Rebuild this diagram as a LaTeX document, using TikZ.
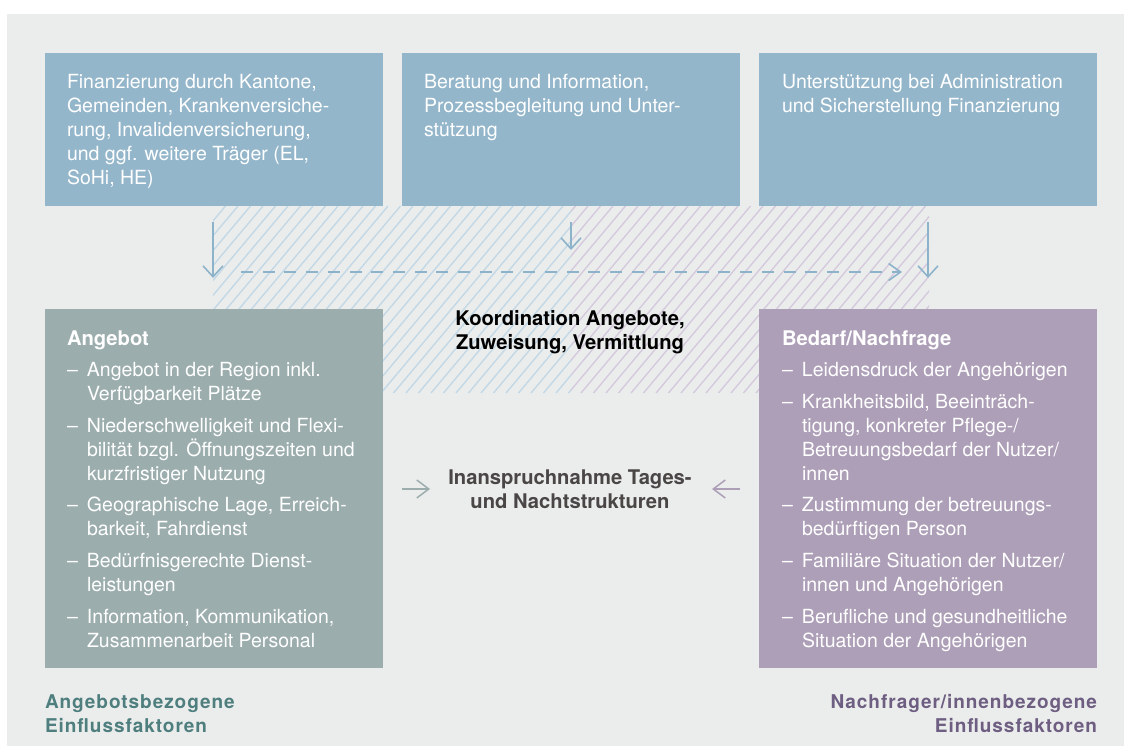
\documentclass[tikz,border=0pt]{standalone}
\usepackage{fontspec}
\setmainfont{TeX Gyre Heros}
\newfontfamily\trackfont{TeX Gyre Heros}[LetterSpace=5]
\usetikzlibrary{arrows.meta}

\definecolor{bg}{HTML}{EBEDEC}
\definecolor{topbox}{HTML}{94B6CB}
\definecolor{angbox}{HTML}{9CADAD}
\definecolor{bedbox}{HTML}{AD9FB7}
\definecolor{hblue}{HTML}{C3D8E7}
\definecolor{hpurp}{HTML}{D5CADD}
\definecolor{arrblue}{HTML}{8DB3CB}
\definecolor{tealtxt}{HTML}{4E7E7E}
\definecolor{purptxt}{HTML}{6E5E82}
\definecolor{darktxt}{HTML}{4A4645}

\newcommand\myitem{\makebox[20pt][l]{–}}
\newcommand\myindent{\hspace*{20pt}}
\newcommand\lightsize{\fontsize{19.5}{24}\selectfont}
\newcommand\boldsize{\fontsize{20.2}{24}\selectfont\bfseries}

\begin{document}
\begin{tikzpicture}[x=1pt,y=-1pt,
  box/.style={draw=none, inner sep=0, minimum width=338pt, anchor=north west},
  txt/.style={inner sep=0, outer sep=0},
  vbarb/.style={-{Straight Barb[length=11pt,width=20pt,line width=1.6pt]}, line width=1.6pt, draw=arrblue},
  dbarb/.style={-{Straight Barb[length=12pt,width=17pt,line width=1.6pt]}, line width=2.8pt, dash pattern=on 12pt off 9.7pt, draw=arrblue},
  mbarb/.style={-{Straight Barb[length=12pt,width=18pt,line width=1.5pt]}, line width=1.5pt},
  hatch/.style={line width=1.4pt}
]
\useasboundingbox (0,0) rectangle (1124,746);
\fill[bg] (7,14) rectangle (1124,746);

% hatched coordination band
\begin{scope}
  \clip (213,206) rectangle (571,393);
  \foreach \i in {0,...,72} {
    \draw[hatch, hblue] ({56+\i*12.5},393) -- ++(157,-187);
  }
\end{scope}
\begin{scope}
  \clip (571,206) rectangle (929,393);
  \foreach \i in {0,...,72} {
    \draw[hatch, hpurp] ({56+\i*12.5},393) -- ++(157,-187);
  }
\end{scope}

% top boxes
\node[box, fill=topbox, minimum height=153pt] (b1) at (45,53) {};
\node[box, fill=topbox, minimum height=153pt] (b2) at (402,53) {};
\node[box, fill=topbox, minimum height=153pt] (b3) at (759,53) {};

% bottom boxes
\node[box, fill=angbox, minimum height=359pt] (ang) at (45,309) {};
\node[box, fill=bedbox, minimum height=359pt] (bed) at (759,309) {};

% top texts
\node[txt, anchor=base west, text=white] (t1) at (67,89) {\parbox[t]{320pt}{\raggedright\lightsize
Finanzierung durch Kantone,\\
Gemeinden, Krankenversiche-\\
rung, Invalidenversicherung,\\
und ggf. weitere Träger (EL,\\
SoHi, HE)}};
\node[txt, anchor=base west, text=white] (t2) at (424,89) {\parbox[t]{320pt}{\raggedright\lightsize
Beratung und Information,\\
Prozessbegleitung und Unter-\\
stützung}};
\node[txt, anchor=base west, text=white] (t3) at (782,89) {\parbox[t]{320pt}{\raggedright\lightsize
Unterstützung bei Administration\\
und Sicherstellung Finanzierung}};

% Angebot text
\node[txt, anchor=base west, text=white] (tang) at (67,345) {\parbox[t]{320pt}{\raggedright\lightsize
{\boldsize Angebot}\\[7.6pt]
\myitem Angebot in der Region inkl.\\
\myindent Verfügbarkeit Plätze\\[7.6pt]
\myitem Niederschwelligkeit und Flexi-\\
\myindent bilität bzgl. Öffnungszeiten und\\
\myindent kurzfristiger Nutzung\\[7.6pt]
\myitem Geographische Lage, Erreich-\\
\myindent barkeit, Fahrdienst\\[7.6pt]
\myitem Bedürfnisgerechte Dienst-\\
\myindent leistungen\\[7.6pt]
\myitem Information, Kommunikation,\\
\myindent Zusammenarbeit Personal}};

% Bedarf text
\node[txt, anchor=base west, text=white] (tbed) at (782,345) {\parbox[t]{320pt}{\raggedright\lightsize
{\boldsize Bedarf/Nachfrage}\\[7.6pt]
\myitem Leidensdruck der Angehörigen\\[7.6pt]
\myitem Krankheitsbild, Beeinträch-\\
\myindent tigung, konkreter Pflege-/\\
\myindent Betreuungsbedarf der Nutzer/\\
\myindent innen\\[7.6pt]
\myitem Zustimmung der betreuungs-\\
\myindent bedürftigen Person\\[7.6pt]
\myitem Familiäre Situation der Nutzer/\\
\myindent innen und Angehörigen\\[7.6pt]
\myitem Berufliche und gesundheitliche\\
\myindent Situation der Angehörigen}};

% centre texts
\node[txt, anchor=base] (koord) at (570,325) {\parbox[t]{320pt}{\centering\boldsize
Koordination Angebote,\\
Zuweisung, Vermittlung}};
\node[txt, anchor=base, text=darktxt] (inan) at (570,484) {\parbox[t]{320pt}{\centering\boldsize
Inanspruchnahme Tages-\\
und Nachtstrukturen}};

% bottom labels
\node[txt, anchor=base west, text=tealtxt] (lab1) at (45,708) {\parbox[t]{320pt}{\raggedright\fontsize{19}{24.5}\selectfont\trackfont\bfseries
Angebotsbezogene\\
Einflussfaktoren}};
\node[txt, anchor=base east, text=purptxt] (lab2) at (1097,708) {\parbox[t]{340pt}{\raggedleft\fontsize{19}{24.5}\selectfont\trackfont\bfseries
Nachfrager/innenbezogene\\
Einflussfaktoren}};

% arrows from top boxes
\coordinate (a1s) at (213,222); \coordinate (a1e) at (213,278);
\coordinate (a2s) at (571,222); \coordinate (a2e) at (571,250);
\coordinate (a3s) at (928,222); \coordinate (a3e) at (928,278);
\coordinate (ds) at (241,272);  \coordinate (de) at (902,272);
\draw[vbarb] (a1s) -- (a1e);
\draw[vbarb] (a2s) -- (a2e);
\draw[vbarb] (a3s) -- (a3e);
\draw[dbarb] (ds) -- (de);

% arrows to centre
\coordinate (ml1) at (402,489); \coordinate (ml2) at (430,489);
\coordinate (mr1) at (740,489); \coordinate (mr2) at (712,489);
\draw[mbarb, draw=angbox] (ml1) -- (ml2);
\draw[mbarb, draw=bedbox] (mr1) -- (mr2);
\end{tikzpicture}
\end{document}
